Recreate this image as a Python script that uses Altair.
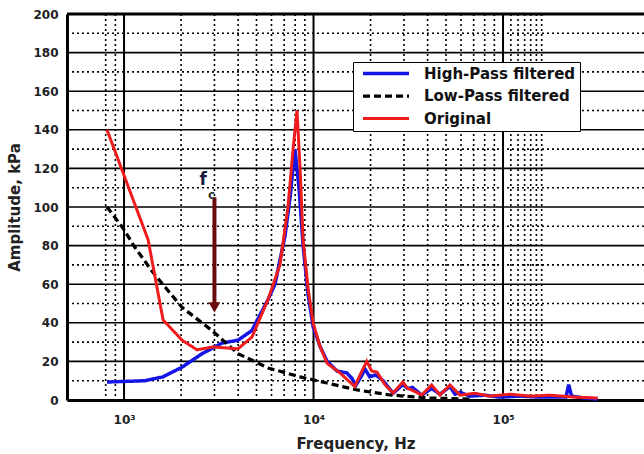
import altair as alt
import pandas as pd

# ---------------- data ----------------
hp_f = [813, 1290, 1605, 2023, 2580, 2950, 3285, 3997, 4730, 5750, 6260, 7070, 7520, 7980,
        8380, 8810, 9350, 9950, 10800, 11800, 13300, 15000, 16000, 16700, 17800, 18700,
        19800, 21300, 23300, 26300, 29600, 31400, 33300, 37200, 42000, 46500, 52500, 55800,
        59300, 66800, 80100, 96100, 122000, 156000, 215000, 222000, 230000, 270000, 316000]
hp_v = [9.3, 10, 12, 17, 24, 27, 29.5, 31, 36, 52, 60, 85, 105, 130,
        110, 80, 55, 38, 28, 20, 15, 14, 11, 7.5, 12, 16,
        12, 13, 10, 3.5, 8, 6, 6.5, 2.5, 6, 3, 7, 3,
        4, 2, 2.5, 1.5, 2, 1.5, 1.5, 8, 2, 1, 0.5]

lp_f = [813, 988, 1143, 1423, 2023, 2910, 3997, 5754, 8490, 11780, 16980, 25350, 41200, 67000]
lp_v = [100, 89, 79, 66, 48, 36, 24, 16.6, 12, 8.8, 5.2, 2.6, 1, 0.5]

or_f = [813, 1012, 1340, 1607, 2023, 2427, 2950, 3990, 4730, 5750, 6650, 7330, 7800, 8180,
        8490, 8810, 9350, 9950, 10800, 11800, 13800, 16500, 17800, 19100, 20300, 21600,
        23800, 26300, 29600, 31400, 33300, 37200, 42000, 46500, 52500, 59300, 71000, 85000,
        109000, 139000, 177000, 239000, 316000]
or_v = [140, 115, 83, 41.5, 31, 26, 27.5, 26.5, 32.6, 52, 70, 100, 130, 150,
        120, 83, 58, 40, 28, 19, 14, 7, 14, 20, 15, 14.5,
        8, 3.6, 9.3, 6, 5, 2.6, 7.8, 2.6, 7.8, 2.5, 3.5, 2,
        3, 2, 2.5, 1.5, 1]

series_names = ["High-Pass filtered", "Low-Pass filtered", "Original"]
series_colors = ["#1414e6", "#000000", "#ee1c1c"]

major_x = [1000, 10000, 100000]
minor_x = [800, 900, 2000, 3000, 4000, 5000, 6000, 7000, 8000, 9000,
           20000, 30000, 40000, 50000, 60000, 70000, 80000, 90000,
           110000, 120000, 130000, 140000, 150000, 160000]
major_y = [20, 40, 60, 80, 100, 120, 140, 160, 180]
minor_y = [10, 30, 50, 70, 90, 110, 130, 150, 170, 190]
y_ticks = [0, 20, 40, 60, 80, 100, 120, 140, 160, 180, 200]

fc_freq = 3000
fc_top = 105
fc_tip = 48

x_domain = [500, 554600]
y_domain = [0, 200]

FONT = "DejaVu Sans"

# ---------------- tables ----------------
rows = []
for name, fs, vs in [(series_names[0], hp_f, hp_v),
                     (series_names[1], lp_f, lp_v),
                     (series_names[2], or_f, or_v)]:
    for i, (f, v) in enumerate(zip(fs, vs)):
        rows.append({"series": name, "f": f, "v": v, "order": i})
df = pd.DataFrame(rows)

xs = alt.Scale(type="log", domain=x_domain, nice=False)
ys = alt.Scale(domain=y_domain, nice=False)

x_axis = alt.Axis(values=major_x, title="Frequency, Hz",
                  labelExpr="datum.value == 1000 ? '10³' : datum.value == 10000 ? '10⁴' : '10⁵'")
y_axis = alt.Axis(values=y_ticks, title="Amplitude, kPa")


def X(field):
    return alt.X(field, scale=xs, axis=x_axis)


def Y(field):
    return alt.Y(field, scale=ys, axis=y_axis)


# grid
g_major_y = alt.Chart(pd.DataFrame({"y": major_y})).mark_rule(
    color="black", strokeWidth=1.6).encode(y=Y("y:Q"))
g_minor_y = alt.Chart(pd.DataFrame({"y": minor_y})).mark_rule(
    color="black", strokeWidth=1.6, strokeDash=[2, 3]).encode(y=Y("y:Q"))
g_major_x = alt.Chart(pd.DataFrame({"x": major_x})).mark_rule(
    color="black", strokeWidth=2).encode(x=X("x:Q"))
g_minor_x = alt.Chart(pd.DataFrame({"x": minor_x})).mark_rule(
    color="black", strokeWidth=1.6, strokeDash=[2, 3]).encode(x=X("x:Q"))
top_border = alt.Chart(pd.DataFrame({"y": [200]})).mark_rule(
    color="black", strokeWidth=3).encode(y=Y("y:Q"))

# curves
lines = alt.Chart(df).mark_line(interpolate="linear").encode(
    x=X("f:Q"),
    y=Y("v:Q"),
    color=alt.Color("series:N", scale=alt.Scale(domain=series_names, range=series_colors),
                    legend=alt.Legend(title=None)),
    strokeDash=alt.StrokeDash("series:N",
                              scale=alt.Scale(domain=series_names, range=[[1, 0], [7, 4], [1, 0]]),
                              legend=alt.Legend(title=None)),
    strokeWidth=alt.StrokeWidth("series:N",
                                scale=alt.Scale(domain=series_names, range=[3.5, 3, 2.5]),
                                legend=None),
    order="order:Q",
)

# f_c annotation
ann = pd.DataFrame({"f": [fc_freq], "top": [fc_top], "tip": [fc_tip]})
arrow_shaft = alt.Chart(ann).mark_rule(color="#6a0b0b", strokeWidth=4).encode(
    x=X("f:Q"), y=Y("top:Q"), y2="tip:Q")
arrow_head = alt.Chart(ann).mark_point(
    shape="triangle-down", filled=True, color="#6a0b0b", size=140, opacity=1).encode(
    x=X("f:Q"), y=Y("tip:Q"))
f_text = alt.Chart(pd.DataFrame({"f": [2620], "v": [114], "t": ["f"]})).mark_text(
    font=FONT, fontSize=17, fontWeight="bold", color="#1a1a40").encode(
    x=X("f:Q"), y=Y("v:Q"), text="t:N")
c_text = alt.Chart(pd.DataFrame({"f": [2900], "v": [106], "t": ["c"]})).mark_text(
    font=FONT, fontSize=12, fontWeight="bold", color="#333333").encode(
    x=X("f:Q"), y=Y("v:Q"), text="t:N")

chart = alt.layer(
    g_minor_y, g_minor_x, g_major_y, g_major_x, top_border,
    lines, arrow_shaft, arrow_head, f_text, c_text
).properties(
    width=577, height=386,
    autosize=alt.AutoSizeParams(type="none"),
    padding={"left": 67, "top": 14, "right": 0, "bottom": 54},
    background="white",
).configure_view(
    stroke=None
).configure_axis(
    grid=False,
    ticks=False,
    domainColor="black",
    domainWidth=3,
    labelFont=FONT,
    labelFontWeight="bold",
    labelFontSize=12,
    labelColor="#222222",
    labelOverlap=False,
    labelFlush=False,
    titleFont=FONT,
    titleFontWeight="bold",
    titleFontSize=15,
    titleColor="#222222",
).configure_axisY(
    labelPadding=9,
    titlePadding=10,
).configure_axisX(
    labelPadding=14,
    titlePadding=11,
).configure_legend(
    orient="none",
    legendX=286,
    legendY=48,
    padding=4,
    strokeColor="black",
    fillColor="white",
    symbolType="stroke",
    symbolSize=2116,
    symbolStrokeWidth=4,
    symbolOffset=4,
    clipHeight=15,
    labelFont=FONT,
    labelFontWeight="bold",
    labelFontSize=15,
    labelColor="#111111",
    labelOffset=13,
    rowPadding=6.5,
)

chart.save("out.html", embed_options={"renderer": "svg", "actions": False})
